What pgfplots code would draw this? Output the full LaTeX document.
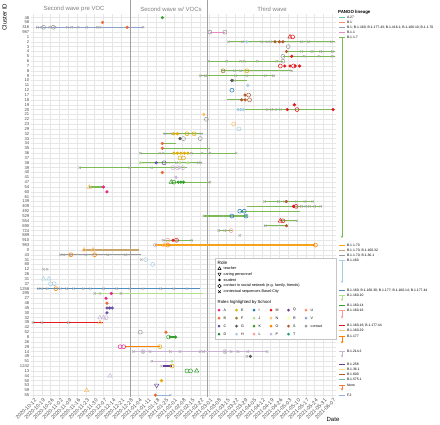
\documentclass[border=0pt]{standalone}
\usepackage{fontspec}
\setmainfont{Liberation Sans}
\usepackage{pgfplots}
\pgfplotsset{compat=1.18}
\usetikzlibrary{arrows.meta}

% lineage colours
\definecolor{cA27}{HTML}{66C2A5}
\definecolor{cB1}{HTML}{FC8D62}
\definecolor{cB1mix}{HTML}{8DA0CB}
\definecolor{cB11}{HTML}{E78AC3}
\definecolor{cB117}{HTML}{7DB954}
\definecolor{cB1170}{HTML}{F5A31A}
\definecolor{cB1170b}{HTML}{C9A66B}
\definecolor{cB1170c}{HTML}{999999}
\definecolor{cB1160}{HTML}{A6CEE3}
\definecolor{cB1160mix}{HTML}{4F8DC0}
\definecolor{cB116010}{HTML}{B2DF8A}
\definecolor{cB116014}{HTML}{33A02C}
\definecolor{cB116016}{HTML}{FB9A99}
\definecolor{cB116016b}{HTML}{E31A1C}
\definecolor{cB116029}{HTML}{FDBF6F}
\definecolor{cB1177}{HTML}{FF7F00}
\definecolor{cB12142}{HTML}{CAB2D6}
\definecolor{cB1258}{HTML}{6A3D9A}
\definecolor{cB1361}{HTML}{FFE680}
\definecolor{cB1600}{HTML}{B15928}
\definecolor{cB15751}{HTML}{66C2A5}
\definecolor{cNone}{HTML}{F07D3C}
\definecolor{cF2}{HTML}{8FB3DE}
% school colours
\definecolor{sA}{HTML}{E7298A}
\definecolor{sB}{HTML}{EE6A35}
\definecolor{sC}{HTML}{6A51A3}
\definecolor{sD}{HTML}{2E8B3E}
\definecolor{sE}{HTML}{E6AB02}
\definecolor{sF}{HTML}{A6761D}
\definecolor{sG}{HTML}{555555}
\definecolor{sH}{HTML}{A6CEE3}
\definecolor{sI}{HTML}{1F78B4}
\definecolor{sJ}{HTML}{B2DF8A}
\definecolor{sK}{HTML}{33A02C}
\definecolor{sL}{HTML}{FB9A99}
\definecolor{sM}{HTML}{E31A1C}
\definecolor{sN}{HTML}{FDBF6F}
\definecolor{sO}{HTML}{FF7F00}
\definecolor{sP}{HTML}{CAB2D6}
\definecolor{sQ}{HTML}{6A3D9A}
\definecolor{sR}{HTML}{FFFF99}
\definecolor{sS}{HTML}{B15928}
\definecolor{sT}{HTML}{1B9E77}
\definecolor{sU}{HTML}{FC8D62}
\definecolor{sV}{HTML}{8DA0CB}
\definecolor{scontact}{HTML}{999999}
\definecolor{xgray}{HTML}{A8A8A8}
\definecolor{gridgray}{HTML}{E6E6E6}
\definecolor{tickgray}{HTML}{4D4D4D}
\definecolor{titlegray}{HTML}{7F7F7F}
\definecolor{sepgray}{HTML}{A0A0A0}

\pgfplotsset{
  lin/.style={draw=#1, line width=1.2pt, no marks},
  xs/.style={only marks, mark=x, mark size=1.7pt, color=xgray, line width=0.45pt},
  dot/.style={only marks, mark=*, mark size=1.4pt, color=#1, mark options={fill=#1, draw=#1}},
  circ/.style={only marks, mark=o, mark size=2.0pt, color=#1, line width=0.5pt},
  tri/.style={only marks, mark=triangle, mark size=2.5pt, color=#1, line width=0.5pt},
  itri/.style={only marks, mark=triangle, mark size=2.5pt, color=#1, line width=0.5pt, mark options={rotate=180}},
}

\newcommand{\lfont}{\fontsize{3.4}{3.6}\selectfont}
\newcommand{\lkey}[3]{\draw[#1, line width=1pt] (339,-#2) -- (345,-#2);
  \node[anchor=west, font=\lfont, inner sep=0pt] at (346.8,-#2) {#3};}
\newcommand{\larrow}[3]{\draw[#1, line width=0.6pt, -{Stealth[length=2.4pt,width=2.6pt]}] (342,-#2) -- (342,-#3);}
\newcommand{\sdot}[4]{\fill[#1] (#2,-#3) circle (1.5);
  \node[anchor=west, font=\fontsize{3.6}{3.8}\selectfont, inner sep=0pt] at (#2+4.5,-#3) {#4};}

\begin{document}
\begin{tikzpicture}[x=1pt,y=1pt]
\useasboundingbox (0,0) rectangle (440,-424);
\begin{axis}[
  at={(31pt,-14pt)}, anchor=north west,
  scale only axis, width=305pt, height=383pt,
  xmin=-0.23, xmax=34.43, ymin=0.256, ymax=79.39, y dir=reverse,
  axis line style={draw=none}, tick style={draw=none}, major tick length=0pt,
  clip=false,
  xtick={0,...,34},
  xticklabels={2020-10-12,2020-10-19,2020-10-26,2020-11-02,2020-11-09,2020-11-16,2020-11-23,2020-11-30,2020-12-07,2020-12-14,2020-12-21,2020-12-28,2021-01-04,2021-01-11,2021-01-18,2021-01-25,2021-02-01,2021-02-08,2021-02-15,2021-02-22,2021-03-01,2021-03-08,2021-03-15,2021-03-22,2021-03-29,2021-04-05,2021-04-12,2021-04-19,2021-04-26,2021-05-03,2021-05-10,2021-05-17,2021-05-24,2021-05-31,2021-06-07},
  xticklabel style={rotate=45, anchor=north east, font=\fontsize{5.2}{5.2}\selectfont, color=tickgray, inner sep=0pt, yshift=-1.5pt},
  ytick={1,...,79},
  yticklabels={48,58,316,987,1,2,3,4,5,6,7,8,9,10,11,12,17,18,19,20,21,22,23,29,32,33,34,35,36,37,38,39,40,41,47,54,60,61,139,409,492,529,554,690,724,889,910,983,0,43,31,80,12,26,31,37,1258,295,27,48,45,30,32,39,42,52,8,26,29,14,49,51,1242,13,44,50,53,59,55},
  yticklabel style={font=\fontsize{4.2}{4.2}\selectfont, color=tickgray, inner sep=0pt, xshift=-1.5pt},
  grid=major, grid style={gridgray, line width=0.4pt},
]
% wave separators
\addplot[sepgray, line width=0.8pt] coordinates {(11.08,-2.64) (11.08,79.39)};
\addplot[sepgray, line width=0.8pt] coordinates {(19.85,-2.64) (19.85,79.39)};
\node[font=\fontsize{6}{6}\selectfont, color=titlegray] at (axis cs:4.66,-0.78) {Second wave pre VOC};
\node[font=\fontsize{6}{6}\selectfont, color=titlegray] at (axis cs:15.68,-0.78) {Second wave w/ VOCs};
\node[font=\fontsize{6}{6}\selectfont, color=titlegray] at (axis cs:27.16,-0.78) {Third wave};

% lineage lines
\addplot[lin=cB1mix] coordinates {(0.3,3) (12.5,3)};
\addplot[lin=cB11] coordinates {(20.1,4) (21.8,4)};
\addplot[lin=cB117] coordinates {(22.2,6) (34.3,6)};
\addplot[lin=cB117] coordinates {(28.8,8) (34.3,8)};
\addplot[lin=cB117] coordinates {(28.4,9) (34.3,9)};
\addplot[lin=cB117] coordinates {(19.9,10) (28.4,10)};
\addplot[lin=cB117] coordinates {(21.4,12) (29.4,12)};
\addplot[lin=cB117] coordinates {(19.0,13) (27.5,13)};
\addplot[lin=cB117] coordinates {(22.6,14) (24.3,14)};
\addplot[lin=cB117] coordinates {(22.0,18) (24.1,18)};
\addplot[lin=cB117] coordinates {(23.3,20) (34.1,20)};
\addplot[lin=cB117] coordinates {(14.8,25) (19.3,25)};
\addplot[lin=cB117] coordinates {(14.7,27) (16.3,27)};
\addplot[lin=cB117] coordinates {(14.7,28) (20.1,28)};
\addplot[lin=cB117] coordinates {(12.2,29) (23.1,29)};
\addplot[lin=cB117] coordinates {(12.2,31) (19.2,31)};
\addplot[lin=cB117] coordinates {(5.3,32) (17.5,32)};
\addplot[lin=cB117] coordinates {(15.7,35) (20.1,35)};
\addplot[lin=cB117] coordinates {(6.4,36) (8.0,36)};
\addplot[lin=cB117] coordinates {(26.3,39) (31.9,39)};
\addplot[lin=cB117] coordinates {(24.3,40) (32.8,40)};
\addplot[lin=cB117] coordinates {(23.5,41) (30.3,41)};
\addplot[lin=cB117] coordinates {(19.4,42) (24.3,42)};
\addplot[lin=cB117] coordinates {(28.1,43) (30.0,43)};
\addplot[lin=cB117] coordinates {(26.3,44) (28.8,44)};
\addplot[lin=cB117] coordinates {(21.1,45) (22.6,45)};
\addplot[lin=cB117] coordinates {(14.8,47) (18.2,47)};
\addplot[lin=cB1170] coordinates {(13.9,48) (32.1,48)};
\addplot[lin=cB1170b] coordinates {(5.7,49) (12.0,49)};
\addplot[lin=cB1170c] coordinates {(3.1,50) (12.3,50)};
\addplot[lin=cB1160mix] coordinates {(0.4,57) (19.0,57)};
\addplot[lin=cB116010] coordinates {(7.0,58) (19.3,58)};
\addplot[lin=cB116016] coordinates {(8.4,61) (9.0,61)};
\addplot[lin=cB116016b] coordinates {(0.0,64) (8.0,64)};
\addplot[lin=cB116014] coordinates {(15.4,67) (16.2,67)};
\addplot[lin=cB1177] coordinates {(10.5,69) (14.4,69)};
\addplot[lin=cB12142] coordinates {(11.4,70) (26.6,70)};
\addplot[lin=cB12142] coordinates {(13.5,72) (15.8,72)};
\addplot[lin=cB1258] coordinates {(14.8,73) (15.8,73)};
\addplot[lin=cF2] coordinates {(13.9,79) (15.6,79)};

% contextual sequences
\addplot[xs] coordinates {
(0.5,3)(1.0,3)(1.9,3)(2.5,3)(3.9,3)(4.4,3)(5.1,3)(6.1,3)(7.3,3)(7.6,3)(12.5,3)
(22.2,6)(23.8,6)(26.0,6)(26.6,6)(27.0,6)(30.5,6)(31.3,6)(33.9,6)
(30.5,8)(31.7,8)(32.7,8)(34.0,8)
(30.8,9)(32.5,9)(34.0,9)
(19.9,10)(22.0,10)(23.6,10)(24.0,10)(25.5,10)(27.7,10)
(22.9,12)(23.6,12)(29.4,12)
(19.0,13)(19.6,13)(23.0,13)(24.3,13)(26.4,13)(27.3,13)
(22.9,14)
(26.6,20)(27.1,20)(27.6,20)(28.1,20)
(15.0,25)(15.8,25)(19.1,25)
(12.2,29)(14.4,29)(14.8,29)(18.0,29)(19.2,29)(20.1,29)(23.1,29)
(16.3,31)(18.8,31)(19.1,31)
(5.3,32)(11.0,32)(13.5,32)
(20.1,35)
(26.3,39)(27.9,39)(28.6,39)(29.9,39)(30.9,39)(31.8,39)
(29.8,40)(30.5,40)(31.0,40)(31.4,40)(32.0,40)(32.7,40)
(19.4,42)(21.6,42)(22.6,42)
(30.0,43)
(26.4,44)
(21.1,45)(21.8,45)
(23.5,46)
(14.8,47)(16.4,47)(18.0,47)
(3.1,50)(3.5,50)(4.2,50)(6.0,50)(8.5,50)(10.5,50)
(1.2,53)(1.6,53)(12.3,51)
(0.6,57)(1.0,57)(1.6,57)(3.1,57)(3.8,57)(4.6,57)(5.7,57)(6.5,57)(8.0,57)(9.5,57)(11.0,57)(12.5,57)(14.5,57)(16.0,57)(17.5,57)
(7.0,58)(7.6,58)(10.0,58)
(0.0,64)(1.0,64)(4.0,64)
(11.4,70)(12.5,70)(13.3,70)(15.6,70)(16.7,70)(19.0,70)(19.4,70)(21.8,70)(22.5,70)(23.3,70)(24.4,70)(26.6,70)
(24.3,71)
(13.5,72)
(14.6,73)
(15.6,79)
};

% contacts (open circles)
\addplot[circ=scontact] coordinates {(1.2,3)(2.3,3)(20.1,4)(21.8,4)(29.0,7)(28.4,9)(28.4,10)(19.7,22)(17.1,26)(19.0,26)(12.2,66)};
\addplot[circ=sM] coordinates {(29.5,5)(28.1,11)(29.6,11)(30.0,20)(29.9,40)(16.3,47)(28.4,43)};
\addplot[circ=sE] coordinates {(24.3,12)(17.5,25)(18.3,25)(16.7,30)(17.1,30)(14.4,69)(15.8,73)};
\addplot[circ=sO] coordinates {(32.1,48)(4.3,50)(7.0,50)(2.6,57)(15.3,48)};
\addplot[circ=sN] coordinates {(22.8,23)};
\addplot[circ=sF] coordinates {(21.6,12)};
\addplot[circ=sS] coordinates {(24.5,17)(24.6,18)};
\addplot[circ=sI] coordinates {(22.6,16)(23.5,41)(24.0,41)(22.6,42)(24.2,42)};
\addplot[circ=sH] coordinates {(23.4,24)(2.0,56)(2.4,56)(12.8,51)(13.6,52)};
\addplot[circ=sC] coordinates {(14.9,31)};
\addplot[circ=sP] coordinates {(15.9,32)(16.4,32)(17.0,32)(13.9,48)(12.5,70)(21.8,70)(8.3,63)};
\addplot[circ=sA] coordinates {(9.9,69)(10.3,69)};
\addplot[circ=sL] coordinates {(22.5,45)(15.3,47)};
\addplot[circ=sK] coordinates {(15.4,67)(16.0,35)(17.5,74)(17.9,74)};

% students (filled dots)
\addplot[dot=sK] coordinates {(14.7,1)(16.2,67)(16.5,35)(16.8,35)(17.1,35)};
\addplot[dot=sB] coordinates {(7.9,2)(10.7,3)(14.7,27)(14.7,28)(14.7,33)(8.4,60)(15.1,66)(13.9,79)};
\addplot[dot=sS] coordinates {(27.5,6)(28.0,6)(28.4,6)(28.8,8)(24.1,17)(23.7,18)(24.1,18)(28.8,39)(28.8,44)};
\addplot[dot=sM] coordinates {(29.4,9)(28.6,11)(29.2,11)(29.8,11)(30.3,11)(29.7,19)(28.9,20)(34.1,20)(29.6,40)(15.9,47)};
\addplot[dot=sH] coordinates {(24.3,6)(24.4,15)(23.3,20)(23.6,20)(23.9,20)};
\addplot[dot=sG] coordinates {(22.6,14)(16.7,26)(24.7,71)};
\addplot[dot=sN] coordinates {(19.4,21)};
\addplot[dot=sE] coordinates {(16.0,29)(16.4,29)(16.8,29)(17.2,29)(17.6,29)(16.0,25)(16.4,25)(14.6,76)};
\addplot[dot=sA] coordinates {(8.0,36)(8.4,37)(8.9,58)(8.3,59)};
\addplot[dot=sC] coordinates {(8.4,61)(8.7,61)(9.0,61)(8.4,62)(14.0,31)};
\addplot[dot=sJ] coordinates {(12.2,31)(16.7,31)(17.6,31)(15.8,72)};
\addplot[dot=sP] coordinates {(16.25,34)(16.6,32)};

% teachers and caring personnel
\addplot[tri=sM] coordinates {(29.2,5)(28.1,43)};
\addplot[tri=sN] coordinates {(6.4,36)(5.8,49)(6.8,49)(14.9,48)(7.6,64)(6.1,78)};
\addplot[tri=sK] coordinates {(15.7,35)(18.6,74)};
\addplot[tri=sH] coordinates {(1.2,55)(1.8,55)};
\addplot[tri=sP] coordinates {(7.6,63)(8.0,63)(8.75,75)};
\addplot[itri=sC] coordinates {(14.05,77)};
\end{axis}

% axis titles
\node[rotate=90, font=\fontsize{6}{6}\selectfont] at (4.5,-17) {Cluster ID};
\node[font=\fontsize{6}{6}\selectfont] at (333,-419) {Date};

% PANGO lineage legend
\node[anchor=west, font=\bfseries\fontsize{4.4}{4.4}\selectfont, inner sep=0pt] at (338,-12.3) {PANGO lineage};
\lkey{cA27}{17.3}{A.27}
\lkey{cB1}{22.4}{B.1}
\lkey{cB1mix}{27.3}{B.1; B.1.160; B.1.177.43; B.1.416.1; B.1.160.10; B.1.1.70}
\lkey{cB11}{32.1}{B.1.1}
\lkey{cB117}{37.0}{B.1.1.7}
\larrow{cB117}{37.0}{238}
\lkey{cB1170}{245.7}{B.1.1.70}
\lkey{cB1170b}{250.7}{B.1.1.70; B.1.160.32}
\lkey{cB1170c}{255.7}{B.1.1.70; B.1.36.1}
\lkey{cB1160}{260.7}{B.1.160}
\larrow{cB1160}{260.7}{283}
\lkey{cB1160mix}{290.7}{B.1.160; B.1.160.30; B.1.177; B.1.160.14; B.1.177.44}
\lkey{cB116010}{295.7}{B.1.160.10}
\larrow{cB116010}{295.7}{301}
\lkey{cB116014}{305.7}{B.1.160.14}
\lkey{cB116016}{310.7}{B.1.160.16}
\larrow{cB116016}{310.7}{318.5}
\lkey{cB116016b}{325.7}{B.1.160.16; B.1.177.44}
\lkey{cB116029}{330.7}{B.1.160.29}
\lkey{cB1177}{336}{B.1.177}
\larrow{cB1177}{336}{343.5}
\lkey{cB12142}{351}{B.1.214.2}
\larrow{cB12142}{351}{357.5}
\lkey{cB1258}{364}{B.1.258}
\lkey{cB1361}{369}{B.1.36.1}
\lkey{cB1600}{374}{B.1.600}
\lkey{cB15751}{379}{B.1.575.1}
\lkey{cNone}{385}{None}
\larrow{cNone}{385}{390.5}
\lkey{cF2}{395}{F.2}

% Role / school legend box
\draw[gray!45, fill=white, line width=0.3pt] (215,-258) rectangle (336,-339);
\node[anchor=west, font=\fontsize{4.6}{5}\selectfont, inner sep=0pt] at (217.5,-263) {Role};
\draw[line width=0.45pt] (217.9,-269.6) -- (221.1,-269.6) -- (219.5,-266.8) -- cycle;
\draw[line width=0.45pt] (217.9,-273.1) -- (221.1,-273.1) -- (219.5,-275.9) -- cycle;
\fill (219.5,-280) circle (1.3);
\draw[line width=0.45pt] (219.5,-286) circle (1.7);
\draw[line width=0.45pt] (218.2,-290.4) -- (220.8,-293.0) (218.2,-293.0) -- (220.8,-290.4);
\begin{scope}[every node/.style={anchor=west, font=\fontsize{3.8}{4}\selectfont, inner sep=0pt}]
\node at (223.5,-268.3) {teacher};
\node at (223.5,-274.3) {caring personnel};
\node at (223.5,-280) {student};
\node at (223.5,-286) {contact in social network (e.g. family, friends)};
\node at (223.5,-291.7) {contextual sequences Basel-City};
\end{scope}
\node[anchor=west, font=\fontsize{4.3}{4.5}\selectfont, inner sep=0pt] at (217.5,-302.3) {Roles highlighted by School};
\sdot{sA}{219}{310}{A}
\sdot{sB}{219}{318}{B}
\sdot{sC}{219}{326}{C}
\sdot{sD}{219}{334}{D}
\sdot{sE}{236.5}{310}{E}
\sdot{sF}{236.5}{318}{F}
\sdot{sG}{236.5}{326}{G}
\sdot{sH}{236.5}{334}{H}
\sdot{sI}{254}{310}{I}
\sdot{sJ}{254}{318}{J}
\sdot{sK}{254}{326}{K}
\sdot{sL}{254}{334}{L}
\sdot{sM}{271}{310}{M}
\sdot{sN}{271}{318}{N}
\sdot{sO}{271}{326}{O}
\sdot{sP}{271}{334}{P}
\sdot{sQ}{288.5}{310}{Q}
\sdot{sR}{288.5}{318}{R}
\sdot{sS}{288.5}{326}{S}
\sdot{sT}{288.5}{334}{T}
\sdot{sU}{306}{310}{U}
\sdot{sV}{306}{318}{V}
\sdot{scontact}{306}{326}{contact}
\end{tikzpicture}
\end{document}
